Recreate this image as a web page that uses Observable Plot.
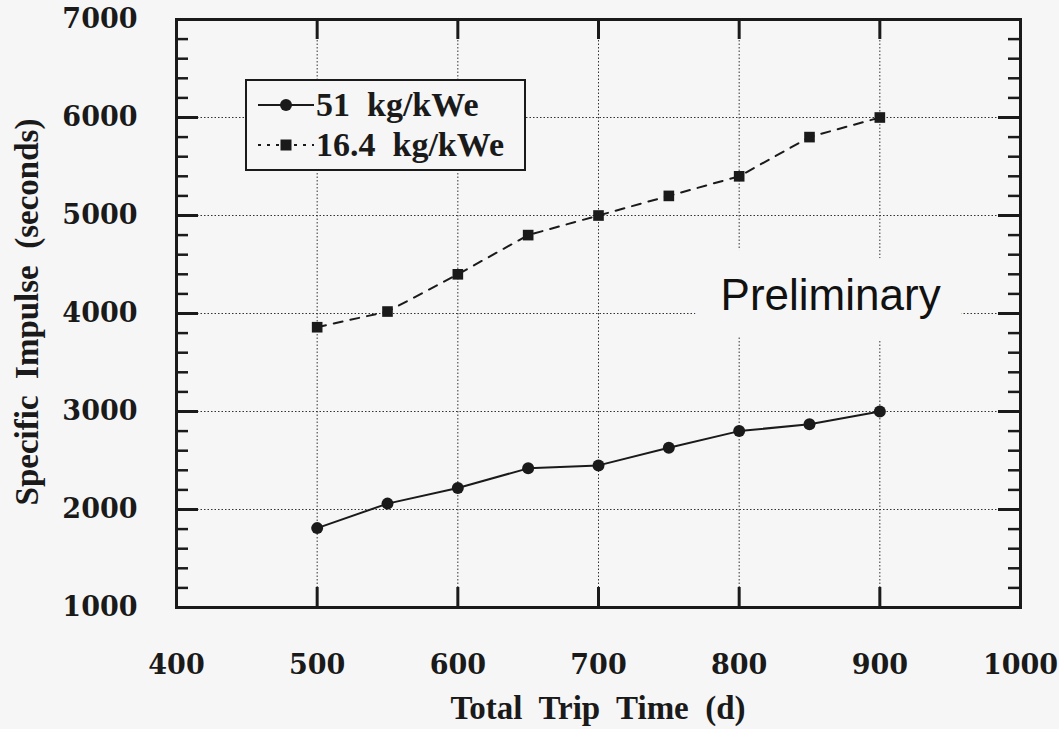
<!DOCTYPE html>
<html>
<head>
<meta charset="utf-8">
<script src="https://cdn.jsdelivr.net/npm/d3@7"></script>
<script src="https://cdn.jsdelivr.net/npm/@observablehq/plot@0.6"></script>
<style>
  html, body { margin: 0; padding: 0; background: #f6f6f6; }
  #wrap { position: relative; width: 1059px; height: 729px; overflow: hidden; }
  .ttl { position: absolute; font-family: "Liberation Serif", "Times New Roman", serif; font-weight: bold; font-size: 33px; color: #1a1a1a; white-space: pre; }
  #xt { left: 0; width: 1059px; text-align: center; top: 690px; padding-left: 137px; box-sizing: border-box; }
  #yt { left: 27px; top: 312px; transform: translate(-50%, -50%) rotate(-90deg); }
  #legend { position: absolute; left: 245px; top: 79px; width: 277px; height: 88px; border: 2px solid #1a1a1a; background: #f6f6f6; }
  .row { position: absolute; left: 11px; display: flex; align-items: center; height: 40px; }
  .row span { font-family: "Liberation Serif", "Times New Roman", serif; font-weight: bold; font-size: 34px; color: #1a1a1a; white-space: pre; margin-left: 2px; }
</style>
</head>
<body>
<div id="wrap"></div>
<script>
// ---- data ----
const tripTime = [500, 550, 600, 650, 700, 750, 800, 850, 900];
const isp51 = [1810, 2060, 2220, 2420, 2450, 2630, 2800, 2870, 3000];
const isp164 = [3860, 4020, 4400, 4800, 5000, 5200, 5400, 5800, 6000];
const seriesNames = ["51  kg/kWe", "16.4  kg/kWe"];
const xTicks = [400, 500, 600, 700, 800, 900, 1000];
const yTicks = [1000, 2000, 3000, 4000, 5000, 6000, 7000];
const xMajor = [500, 600, 700, 800, 900];
const yMajor = [2000, 3000, 4000, 5000, 6000];
const yMinor = [1200, 1400, 1600, 1800, 2200, 2400, 2600, 2800, 3200, 3400, 3600, 3800,
                4200, 4400, 4600, 4800, 5200, 5400, 5600, 5800, 6200, 6400, 6600, 6800];
const notes = [{x: 865, y: 4180, text: "Preliminary"}];

const s51 = tripTime.map((t, i) => ({t, v: isp51[i]}));
const s164 = tripTime.map((t, i) => ({t, v: isp164[i]}));

const W = 1059, H = 729, mL = 176, mR = 39, mT = 19, mB = 122;
const pw = W - mL - mR, ph = H - mT - mB;
const ink = "#1a1a1a", bg = "#f6f6f6";
const tickFont = {fontFamily: "'DejaVu Serif', serif", fontWeight: "bold", fontSize: 27, fill: ink};

const chart = Plot.plot({
  width: W, height: H,
  marginLeft: mL, marginRight: mR, marginTop: mT, marginBottom: mB,
  style: {background: "transparent", color: ink},
  x: {domain: [400, 1000]},
  y: {domain: [1000, 7000]},
  marks: [
    Plot.ruleX(xMajor, {x: d => d, stroke: "#333", strokeWidth: 1, strokeDasharray: "1.5,2"}),
    Plot.ruleY(yMajor, {y: d => d, stroke: "#333", strokeWidth: 1, strokeDasharray: "1.5,2"}),
    Plot.text(notes, {x: "x", y: "y", text: "text", fontFamily: "'Liberation Sans', Arial, sans-serif",
      fontSize: 44, fill: "#111", stroke: bg, strokeWidth: 58, strokeLinejoin: "round", paintOrder: "stroke",
      textAnchor: "middle", lineAnchor: "middle"}),
    // ticks (inward)
    Plot.tickX(xMajor, {x: d => d, insetTop: ph - 20, stroke: ink, strokeWidth: 3}),
    Plot.tickX(xMajor, {x: d => d, insetBottom: ph - 20, stroke: ink, strokeWidth: 3}),
    Plot.tickY(yMajor, {y: d => d, insetRight: pw - 22, stroke: ink, strokeWidth: 3}),
    Plot.tickY(yMajor, {y: d => d, insetLeft: pw - 22, stroke: ink, strokeWidth: 3}),
    Plot.tickY(yMinor, {y: d => d, insetRight: pw - 12, stroke: ink, strokeWidth: 2.5}),
    Plot.tickY(yMinor, {y: d => d, insetLeft: pw - 12, stroke: ink, strokeWidth: 2.5}),
    Plot.frame({stroke: ink, strokeWidth: 3}),
    // axes labels
    Plot.axisX({ticks: xTicks, tickSize: 0, tickPadding: 47, label: null, tickFormat: d => String(d), ...tickFont}),
    Plot.axisY({ticks: yTicks, tickSize: 0, tickPadding: 39, label: null, tickFormat: d => String(d), ...tickFont}),
    // series
    Plot.line(s164, {x: "t", y: "v", stroke: ink, strokeWidth: 2, strokeDasharray: "9,8"}),
    Plot.dot(s164, {x: "t", y: "v", symbol: "square", r: 6, fill: ink}),
    Plot.line(s51, {x: "t", y: "v", stroke: ink, strokeWidth: 2}),
    Plot.dot(s51, {x: "t", y: "v", symbol: "circle", r: 6, fill: ink})
  ]
});

const wrap = document.getElementById("wrap");
wrap.appendChild(chart);

const xt = document.createElement("div");
xt.className = "ttl"; xt.id = "xt"; xt.textContent = "Total  Trip  Time  (d)";
wrap.appendChild(xt);
const yt = document.createElement("div");
yt.className = "ttl"; yt.id = "yt"; yt.textContent = "Specific  Impulse  (seconds)";
wrap.appendChild(yt);

const legend = document.createElement("div");
legend.id = "legend";
const sym = [
  `<svg width="56" height="20"><line x1="0" y1="10" x2="56" y2="10" stroke="${ink}" stroke-width="2"/><circle cx="28" cy="10" r="6" fill="${ink}"/></svg>`,
  `<svg width="56" height="20"><line x1="0" y1="10" x2="56" y2="10" stroke="${ink}" stroke-width="2" stroke-dasharray="3,6"/><rect x="22.5" y="4.5" width="11" height="11" fill="${ink}"/></svg>`
];
seriesNames.forEach((n, i) => {
  const r = document.createElement("div");
  r.className = "row";
  r.style.top = (i === 0 ? 4 : 44) + "px";
  r.innerHTML = sym[i] + `<span>${n}</span>`;
  legend.appendChild(r);
});
wrap.appendChild(legend);
</script>
</body>
</html>
